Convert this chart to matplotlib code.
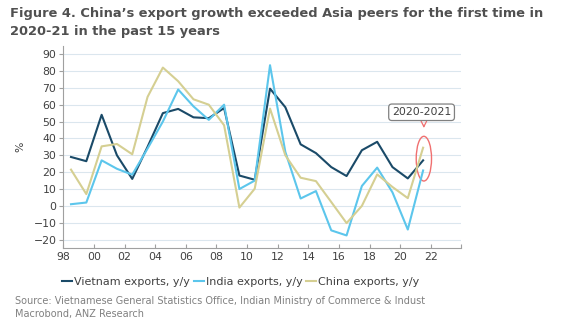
import matplotlib
matplotlib.use('Agg')
import matplotlib.pyplot as plt
from matplotlib.patches import Ellipse
import numpy as np

# annual export growth, y/y %, plotted at mid-year
years = np.arange(1998, 2022) + 0.5
vietnam = [29, 26.5, 54, 30, 16, 35, 55, 57.5, 52.5, 52, 58, 18, 15.5, 69.5,
           58.5, 36.5, 31.3, 23, 17.7, 33, 38, 23, 16.3, 27]
india = [1, 2, 27, 22, 18.5, 34, 50, 69, 59, 51, 60, 10, 15, 83.4,
         32, 4.4, 8.8, -14.5, -17.5, 11.8, 22.7, 8, -14, 21]
china = [21.5, 7, 35.3, 36.7, 30.6, 64.6, 82, 73.9, 63.2, 60, 47.8, -1, 10.2, 57.7,
         30, 16.7, 14.7, 2.3, -10.2, 0, 18.7, 11.2, 4.6, 34.5]

series_names = ['Vietnam exports, y/y', 'India exports, y/y', 'China exports, y/y']
series_colors = ['#1a4a68', '#5cc6ec', '#d5cf92']

xticks = np.arange(1998, 2025, 2)
xtick_labels = ['98', '00', '02', '04', '06', '08', '10', '12', '14', '16', '18', '20', '22', '']
yticks = np.arange(-20, 91, 10)

txt = '#404040'
plt.rcParams['font.family'] = 'DejaVu Sans'

fig = plt.figure(figsize=(5.76, 3.26), dpi=100)
ax = fig.add_axes([0.110, 0.239, 0.691, 0.621])

for vals, name, col in zip([vietnam, india, china], series_names, series_colors):
    ax.plot(years, vals, color=col, lw=1.5, label=name)

ax.set_xlim(1998, 2024)
ax.set_ylim(-25, 95)
ax.set_xticks(xticks)
ax.set_xticklabels(xtick_labels)
ax.set_yticks(yticks)
ax.tick_params(axis='x', direction='in', length=3, color='#a0a0a0', labelsize=7.8, labelcolor=txt, pad=3)
ax.tick_params(axis='y', direction='out', length=3, color='#a0a0a0', labelsize=7.8, labelcolor=txt, pad=2)
ax.grid(axis='y', color='#dbe6ee', lw=0.8)
ax.set_axisbelow(True)
for s in ['top', 'right']:
    ax.spines[s].set_visible(False)
ax.spines['left'].set_color('#a0a0a0')
ax.spines['bottom'].set_color('#a0a0a0')
ax.set_ylabel('%', fontsize=7.8, color=txt, labelpad=6)

# highlight on the latest reading
ax.add_patch(Ellipse((2021.55, 28), 1.0, 26.5, fill=False, ec='#f07070', lw=1.0))
ax.annotate('', xy=(2021.55, 44.5), xytext=(2021.55, 49.5),
            arrowprops=dict(arrowstyle='->', color='#f07070', lw=0.9))
ax.text(2021.4, 55.5, '2020-2021', fontsize=7.8, color=txt, ha='center', va='center',
        bbox=dict(boxstyle='round,pad=0.3', fc='white', ec='#808080', lw=0.9))

fig.legend(loc='center', bbox_to_anchor=(0.418, 0.136), ncol=3, frameon=False,
           fontsize=8, handlelength=0.9, handletextpad=0.15, columnspacing=0.35,
           labelcolor=txt)

fig.text(0.017, 0.978, 'Figure 4. China\u2019s export growth exceeded Asia peers for the first time in\n'
         '2020-21 in the past 15 years', fontsize=9.4, fontweight='bold', color='#505050',
         va='top', ha='left', linespacing=1.45)
fig.text(0.026, 0.092, 'Source: Vietnamese General Statistics Office, Indian Ministry of Commerce & Indust\n'
         'Macrobond, ANZ Research', fontsize=7.0, color='#808080', va='top', ha='left',
         linespacing=1.35)

fig.savefig('out.png', dpi=100)
